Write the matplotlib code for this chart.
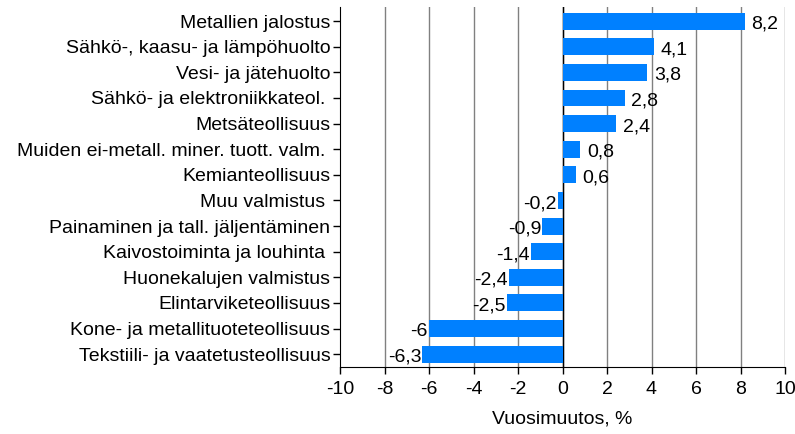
import numpy as np
import matplotlib.pyplot as plt

plt.rcParams['font.family'] = ['Liberation Sans', 'DejaVu Sans']

categories = [
    "Metallien jalostus",
    "Sähkö-, kaasu- ja lämpöhuolto",
    "Vesi- ja jätehuolto",
    "Sähkö- ja elektroniikkateol. ",
    "Metsäteollisuus",
    "Muiden ei-metall. miner. tuott. valm. ",
    "Kemianteollisuus",
    "Muu valmistus ",
    "Painaminen ja tall. jäljentäminen",
    "Kaivostoiminta ja louhinta ",
    "Huonekalujen valmistus",
    "Elintarviketeollisuus",
    "Kone- ja metallituoteteollisuus",
    "Tekstiili- ja vaatetusteollisuus",
]
values = [8.2, 4.1, 3.8, 2.8, 2.4, 0.8, 0.6, -0.2, -0.9, -1.4, -2.4, -2.5, -6.0, -6.3]
xticks = np.arange(-10, 11, 2)

fs = 14

fig = plt.figure(figsize=(7.95, 4.34), dpi=100)
ax = fig.add_axes([340 / 795, 1 - 367 / 434, 445 / 795, 360 / 434])

y = np.arange(len(categories))
ax.barh(y, values, height=0.66, color='#0080ff', zorder=3)

# value labels at bar ends, decimal comma
for yi, v in zip(y, values):
    lab = ('%g' % v).replace('.', ',')
    if v >= 0:
        ax.text(v + 0.3, yi + 0.12, lab, ha='left', va='center', fontsize=fs, zorder=4)
    else:
        ax.text(v - 0.05, yi + 0.12, lab, ha='right', va='center', fontsize=fs, zorder=4)

ax.set_xlim(-10, 10)
ax.set_ylim(len(categories) - 0.5, -0.55)
ax.set_xticks(xticks)
ax.set_xticklabels([str(t) for t in xticks], fontsize=fs)
ax.set_yticks(y)
ax.set_yticklabels(categories, fontsize=fs)
ax.tick_params(axis='both', direction='out', length=5, width=1, color='black')
ax.tick_params(axis='x', pad=5)
ax.tick_params(axis='y', pad=2)

for t in xticks[1:]:
    ax.axvline(t, color='#808080', linewidth=1, zorder=1)
ax.axvline(0, color='black', linewidth=1, zorder=2)

ax.spines['top'].set_visible(False)
ax.spines['right'].set_visible(False)
ax.spines['left'].set_color('black')
ax.spines['bottom'].set_color('black')

ax.set_xlabel('Vuosimuutos, %', fontsize=fs, labelpad=9)

fig.savefig('out.png', dpi=100)
